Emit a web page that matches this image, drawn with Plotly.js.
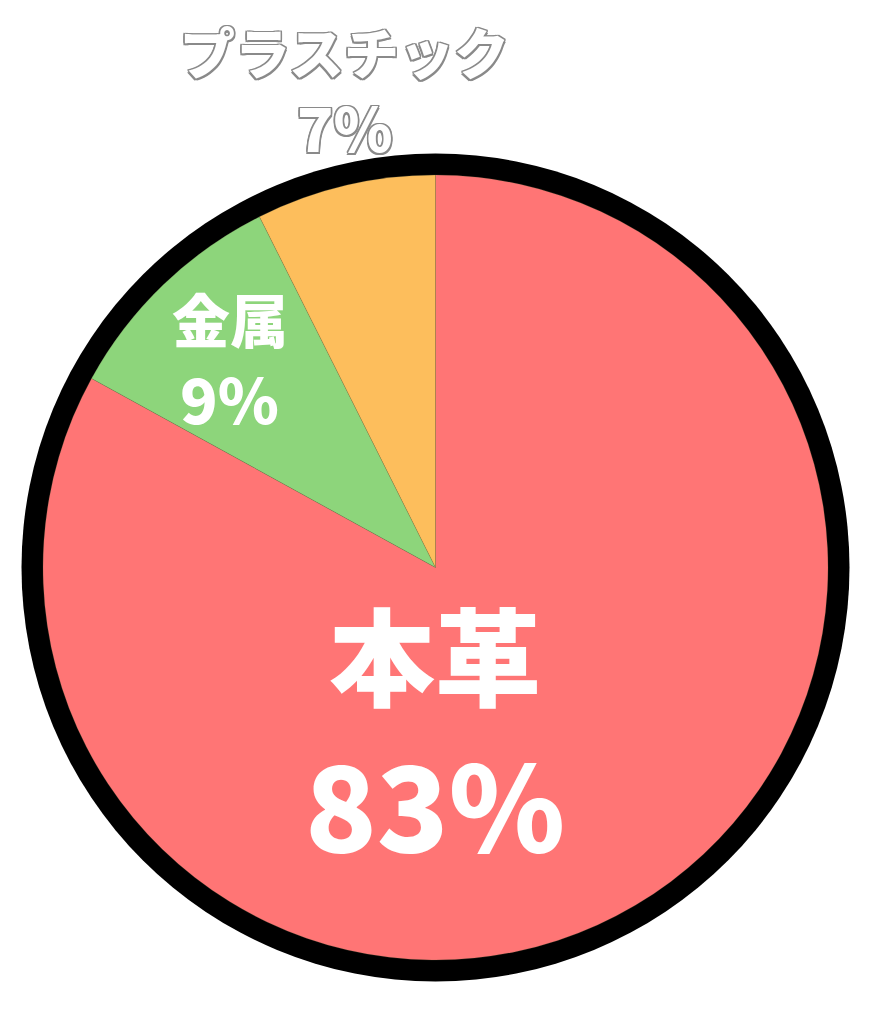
<!DOCTYPE html>
<html>
<head>
<meta charset="utf-8">
<script src="https://cdn.plot.ly/plotly-3.0.1.min.js"></script>
<style>html,body{margin:0;padding:0;background:#fff;}</style>
</head>
<body>
<div id="chart" style="width:877px;height:1024px;"></div>
<script>
var labels = ['本革', '金属', 'プラスチック'];
var shares = [83, 9.6, 7.4];          // slice sizes
var pctText = ['83%', '9%', '7%'];     // percentages printed on the chart
var colors = ['#FF7575', '#8DD57B', '#FDBE5C'];

var FONT = '"Noto Sans CJK JP", "Noto Sans", sans-serif';
var outline = '-1.5px -1.5px 0 #8a8a8a, 1.5px -1.5px 0 #8a8a8a, -1.5px 1.5px 0 #8a8a8a, 1.5px 1.5px 0 #8a8a8a, 0 1.5px 0 #8a8a8a, 1.5px 0 0 #8a8a8a, 0 -1.5px 0 #8a8a8a, -1.5px 0 0 #8a8a8a';

var trace = {
  type: 'pie',
  labels: labels,
  values: shares,
  sort: false,
  direction: 'clockwise',
  rotation: 0,
  textinfo: 'none',
  hoverinfo: 'label',
  marker: { colors: colors, line: { width: 0.6, color: 'rgba(120,120,80,0.35)' } },
  showlegend: false
};

// label placements (layout positions, paper coords)
var labelPos = [
  { lx: 0.4994, ly: 0.3923, px: 0.4994, py: 0.2032, ls: 106, ps: 118, outline: false },
  { lx: 0.2382, ly: 0.8178, px: 0.2370, py: 0.7172, ls: 58, ps: 62, outline: false },
  { lx: 0.3847, ly: 1.1592, px: 0.3847, py: 1.0630, ls: 55, ps: 60, outline: true }
];

var annotations = [];
labels.forEach(function (lab, i) {
  var p = labelPos[i];
  var font = function (size) {
    var f = { family: FONT, size: size, color: '#ffffff', weight: 900 };
    if (p.outline) f.shadow = outline;
    return f;
  };
  annotations.push({ xref: 'paper', yref: 'paper', x: p.lx, y: p.ly, text: lab,
    showarrow: false, xanchor: 'center', yanchor: 'middle', font: font(p.ls) });
  annotations.push({ xref: 'paper', yref: 'paper', x: p.px, y: p.py, text: pctText[i],
    showarrow: false, xanchor: 'center', yanchor: 'middle', font: font(p.ps) });
});

var ring = 21.5 / 785;
var layout = {
  width: 877,
  height: 1024,
  margin: { l: 43, r: 49, t: 175, b: 64, pad: 0 },
  paper_bgcolor: '#ffffff',
  plot_bgcolor: '#ffffff',
  showlegend: false,
  shapes: [{
    type: 'circle', xref: 'paper', yref: 'paper', layer: 'below',
    x0: -ring, x1: 1 + ring, y0: -ring, y1: 1 + ring,
    fillcolor: '#000000', line: { width: 0 }
  }],
  annotations: annotations
};

Plotly.newPlot('chart', [trace], layout, { displayModeBar: false, staticPlot: true });
</script>
</body>
</html>
